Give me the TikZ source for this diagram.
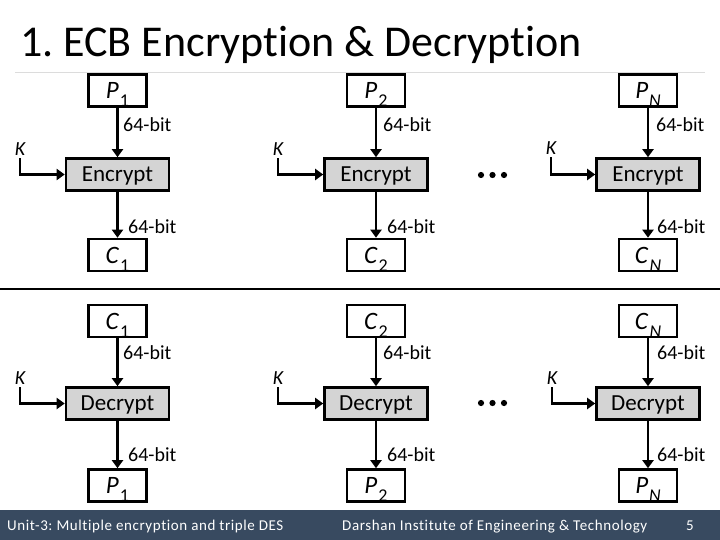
\documentclass[tikz,border=0pt]{standalone}
\usepackage{fontspec}
\setmainfont{Carlito}[Ligatures={NoCommon,NoRare}]
\usetikzlibrary{arrows.meta}
\definecolor{footbg}{RGB}{56,74,96}
\definecolor{encgrey}{RGB}{212,212,212}
\definecolor{rulegrey}{RGB}{220,220,220}
\newcommand{\sbs}[2]{\textit{#1}\hspace{1pt}\raisebox{-8pt}{\fontsize{18}{18}\selectfont #2}}
\frenchspacing
\begin{document}
\begin{tikzpicture}[x=1pt,y=-1pt,
  every node/.style={inner sep=0pt},
  databox/.style={draw,line width=2.6pt,minimum width=58pt,minimum height=32pt,
    font=\fontsize{25}{25}\selectfont,text height=19pt,text depth=3pt},
  cipherbox/.style={draw,line width=2.6pt,fill=encgrey,minimum width=103pt,minimum height=32pt,
    font=\fontsize{23}{23}\selectfont,text height=16.8pt,text depth=2pt},
  flow/.style={line width=2.6pt,-{Triangle[width=11pt,length=8pt]}},
  bitlabel/.style={anchor=west,font=\fontsize{20}{20}\selectfont},
  keylabel/.style={inner sep=1pt,font=\fontsize{20}{20}\selectfont\itshape},
  footlabel/.style={anchor=base west,text=white,font=\fontsize{15}{15}\selectfont\addfontfeatures{LetterSpace=4}},
  dot/.style={fill=black}
]
\useasboundingbox (0,0) rectangle (720,540);
% title
\node[anchor=base west,font=\fontsize{44}{44}\selectfont] (title) at (20,57) {1. ECB Encryption \& Decryption};
\coordinate (rl) at (15,72.5);
\coordinate (rr) at (705,72.5);
\draw[rulegrey,line width=1pt] (rl) -- (rr);
\coordinate (sl) at (0,289);
\coordinate (sr) at (720,289);
\draw[line width=2pt] (sl) -- (sr);
% footer
\fill[footbg] (0,510) rectangle (720,540);
\node[footlabel] (f1) at (7,530) {Unit-3: Multiple encryption and triple DES};
\node[footlabel] (f2) at (342,530) {Darshan Institute of Engineering \& Technology};
\node[footlabel] (f3) at (686,530) {5};

% ===== encryption row =====
\node[databox] (p1) at (117.5,90.5) {\sbs{P}{1}};
\node[databox] (p2) at (376,90.5) {\sbs{P}{2}};
\node[databox] (pn) at (648,90.5) {\sbs{P}{\textit{N}}};
\node[cipherbox] (e1) at (117.5,174.5) {Encrypt};
\node[cipherbox] (e2) at (376,174.5) {Encrypt};
\node[cipherbox] (en) at (648,174.5) {Encrypt};
\node[databox] (c1) at (117.5,255) {\sbs{C}{1}};
\node[databox] (c2) at (376,255) {\sbs{C}{2}};
\node[databox] (cn) at (648,255) {\sbs{C}{\textit{N}}};
\foreach \a/\b in {p1/e1,p2/e2,pn/en,e1/c1,e2/c2,en/cn}
  \draw[flow] (\a.south) -- (\b.north);
\node[bitlabel] (ea1) at (123,125) {64-bit};
\node[bitlabel] (ea2) at (383,125) {64-bit};
\node[bitlabel] (ean) at (656,125) {64-bit};
\node[bitlabel] (eb1) at (128,227) {64-bit};
\node[bitlabel] (eb2) at (387,227) {64-bit};
\node[bitlabel] (ebn) at (657,227) {64-bit};
\node[keylabel] (k1) at (20,149) {K};
\node[keylabel] (k2) at (278,149) {K};
\node[keylabel] (kn) at (551,148) {K};
\draw[flow] ([yshift=-1.5pt]k1.south) |- (e1.west);
\draw[flow] ([yshift=-1.5pt]k2.south) |- (e2.west);
\draw[flow] ([yshift=-1.5pt]kn.south) |- (en.west);
\foreach \x in {481,492.5,504} \fill[dot] (\x,175) circle (3.1);

% ===== decryption row =====
\node[databox] (dc1) at (117.5,321) {\sbs{C}{1}};
\node[databox] (dc2) at (376,321) {\sbs{C}{2}};
\node[databox] (dcn) at (648,321) {\sbs{C}{\textit{N}}};
\node[cipherbox] (d1) at (117.5,403.5) {Decrypt};
\node[cipherbox] (d2) at (376,403.5) {Decrypt};
\node[cipherbox] (dn) at (648,403.5) {Decrypt};
\node[databox] (dp1) at (117.5,485.5) {\sbs{P}{1}};
\node[databox] (dp2) at (376,485.5) {\sbs{P}{2}};
\node[databox] (dpn) at (648,485.5) {\sbs{P}{\textit{N}}};
\foreach \a/\b in {dc1/d1,dc2/d2,dcn/dn,d1/dp1,d2/dp2,dn/dpn}
  \draw[flow] (\a.south) -- (\b.north);
\node[bitlabel] (da1) at (123,353) {64-bit};
\node[bitlabel] (da2) at (383,353) {64-bit};
\node[bitlabel] (dan) at (657,353) {64-bit};
\node[bitlabel] (db1) at (128,455) {64-bit};
\node[bitlabel] (db2) at (387,455) {64-bit};
\node[bitlabel] (dbn) at (657,455) {64-bit};
\node[keylabel] (dk1) at (20,378) {K};
\node[keylabel] (dk2) at (278,378) {K};
\node[keylabel] (dkn) at (552,378) {K};
\draw[flow] ([yshift=-1.5pt]dk1.south) |- (d1.west);
\draw[flow] ([yshift=-1.5pt]dk2.south) |- (d2.west);
\draw[flow] ([yshift=-1.5pt]dkn.south) |- (dn.west);
\foreach \x in {481,492.5,504} \fill[dot] (\x,403) circle (3.1);
\end{tikzpicture}
\end{document}
